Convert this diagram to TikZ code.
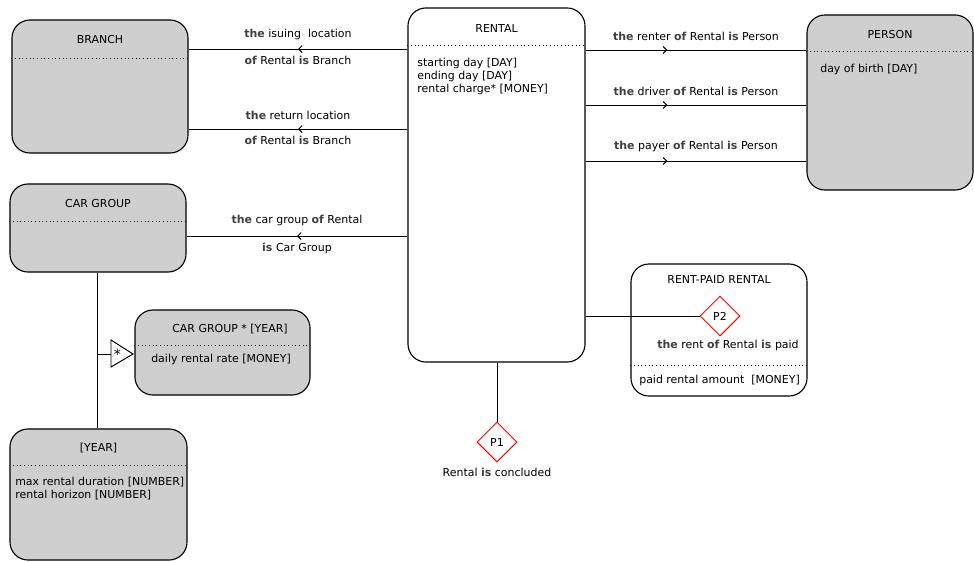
\documentclass[tikz,border=0pt]{standalone}
\usepackage{fontspec}
\setmainfont{DejaVu Sans}
\usetikzlibrary{arrows.meta, positioning, shapes.geometric, decorations.markings}
\newcommand{\rw}[1]{\textbf{\textcolor{darkgray}{#1}}}

\begin{document}
\begin{tikzpicture}[x=0.025cm, y=-0.025cm,
    font=\fontsize{7.8}{9.3}\selectfont,
    entity/.style={draw, line width=0.8pt, rounded corners=0.45cm, fill=black!19, inner sep=0},
    subtype/.style={entity, fill=white},
    title/.style={inner sep=0},
    attrs/.style={inner sep=0, anchor=north west, align=left},
    sep/.style={dotted, line width=0.6pt},
    lab/.style={inner sep=0},
    rel/.style={line width=0.7pt, postaction={decorate},
        decoration={markings, mark=at position #1 with {\arrow{Straight Barb[length=2.5pt, width=5pt]}}}},
    rel/.default=0.5,
    pred/.style={diamond, draw=red, line width=0.7pt, fill=white, minimum size=1cm, inner sep=0}
]
    \useasboundingbox (0,0) rectangle (974,561);

    % RENTAL
    \node[subtype, minimum width=4.425cm, minimum height=8.85cm] (rental) at (496.5,185) {};
    \node[title] (rentalT) at (496.5,28) {RENTAL};
    \draw[sep] (rental.west |- 0,45) -- (rental.east |- 0,45);
    \node[attrs] (rentalA) at (417,57.5) {starting day [DAY]\\ending day [DAY]\\rental charge* [MONEY]};

    % BRANCH
    \node[entity, minimum width=4.4cm, minimum height=3.325cm] (branch) at (100,86.5) {};
    \node[title] (branchT) at (100,40) {BRANCH};
    \draw[sep] (branch.west |- 0,58) -- (branch.east |- 0,58);

    % PERSON
    \node[entity, minimum width=4.15cm, minimum height=4.375cm] (person) at (890,102.5) {};
    \node[title] (personT) at (890,35) {PERSON};
    \draw[sep] (person.west |- 0,51) -- (person.east |- 0,51);
    \node[attrs] (personA) at (820,63.5) {day of birth [DAY]};

    % CAR GROUP
    \node[entity, minimum width=4.4cm, minimum height=2.2cm] (cargroup) at (98,228) {};
    \node[title] (cargroupT) at (98,204) {CAR GROUP};
    \draw[sep] (cargroup.west |- 0,221) -- (cargroup.east |- 0,221);

    % CAR GROUP * [YEAR]
    \node[entity, minimum width=4.375cm, minimum height=2.125cm] (cgyear) at (222.5,352.5) {};
    \node[title] (cgyearT) at (230,329) {CAR GROUP * [YEAR]};
    \draw[sep] (cgyear.west |- 0,345) -- (cgyear.east |- 0,345);
    \node[attrs] (cgyearA) at (151,354) {daily rental rate [MONEY]};

    % [YEAR]
    \node[entity, minimum width=4.425cm, minimum height=3.275cm] (year) at (98.5,494.5) {};
    \node[title] (yearT) at (98.5,448) {[YEAR]};
    \draw[sep] (year.west |- 0,465) -- (year.east |- 0,465);
    \node[attrs] (yearA) at (15,477) {max rental duration [NUMBER]\\rental horizon [NUMBER]};

    % RENT-PAID RENTAL
    \node[subtype, minimum width=4.4cm, minimum height=3.3cm] (rentpaid) at (719,330) {};
    \node[title] (rentpaidT) at (719,279) {RENT-PAID RENTAL};
    \node[pred] (p2) at (720,316) {P2};
    \node[lab] (p2L) at (728,345) {\rw{the} rent \rw{of} Rental \rw{is} paid};
    \draw[sep] (rentpaid.west |- 0,365) -- (rentpaid.east |- 0,365);
    \node[attrs] (rentpaidA) at (639,375) {paid rental amount\ \ [MONEY]};

    % P1
    \node[pred] (p1) at (497,442) {P1};
    \node[lab, below=4pt of p1] (p1L) {Rental \rw{is} concluded};

    % roles
    \draw[rel] (rental.west |- 0,49) -- node[lab, above=6pt] {\rw{the} isuing\ \ location}
        node[lab, below=5pt] {\rw{of} Rental \rw{is} Branch} (branch.east |- 0,49);
    \draw[rel] (rental.west |- 0,129) -- node[lab, above=6pt] {\rw{the} return location}
        node[lab, below=5pt] {\rw{of} Rental \rw{is} Branch} (branch.east |- 0,129);
    \draw[rel] (rental.west |- 0,236) -- node[lab, above=7pt] {\rw{the} car group \rw{of} Rental}
        node[lab, below=5pt] {\rw{is} Car Group} (cargroup.east |- 0,236);
    \draw[rel=0.37] (rental.east |- 0,50) -- node[lab, above=6pt] {\rw{the} renter \rw{of} Rental \rw{is} Person} (person.west |- 0,50);
    \draw[rel=0.37] (rental.east |- 0,105) -- node[lab, above=6pt] {\rw{the} driver \rw{of} Rental \rw{is} Person} (person.west |- 0,105);
    \draw[rel=0.37] (rental.east |- 0,161) -- node[lab, above=6pt] {\rw{the} payer \rw{of} Rental \rw{is} Person} (person.west |- 0,161);

    % predicates
    \draw[line width=0.7pt] (rental.south -| p1.north) -- (p1.north);
    \draw[line width=0.7pt] (rental.east |- p2.west) -- (p2.west);

    % cross product
    \coordinate (jn) at (97,354);
    \coordinate (tri) at (111,354);
    \draw[line width=0.7pt] (cargroup.south -| jn) -- (year.north -| jn);
    \draw[line width=0.7pt] (jn) -- (tri);
    \draw[line width=0.7pt, fill=white] (111,340) -- (133,354) -- (111,367) -- cycle;
    \node[lab, font=\fontsize{10}{10}\selectfont] (star) at (117.5,354) {*};
\end{tikzpicture}
\end{document}
